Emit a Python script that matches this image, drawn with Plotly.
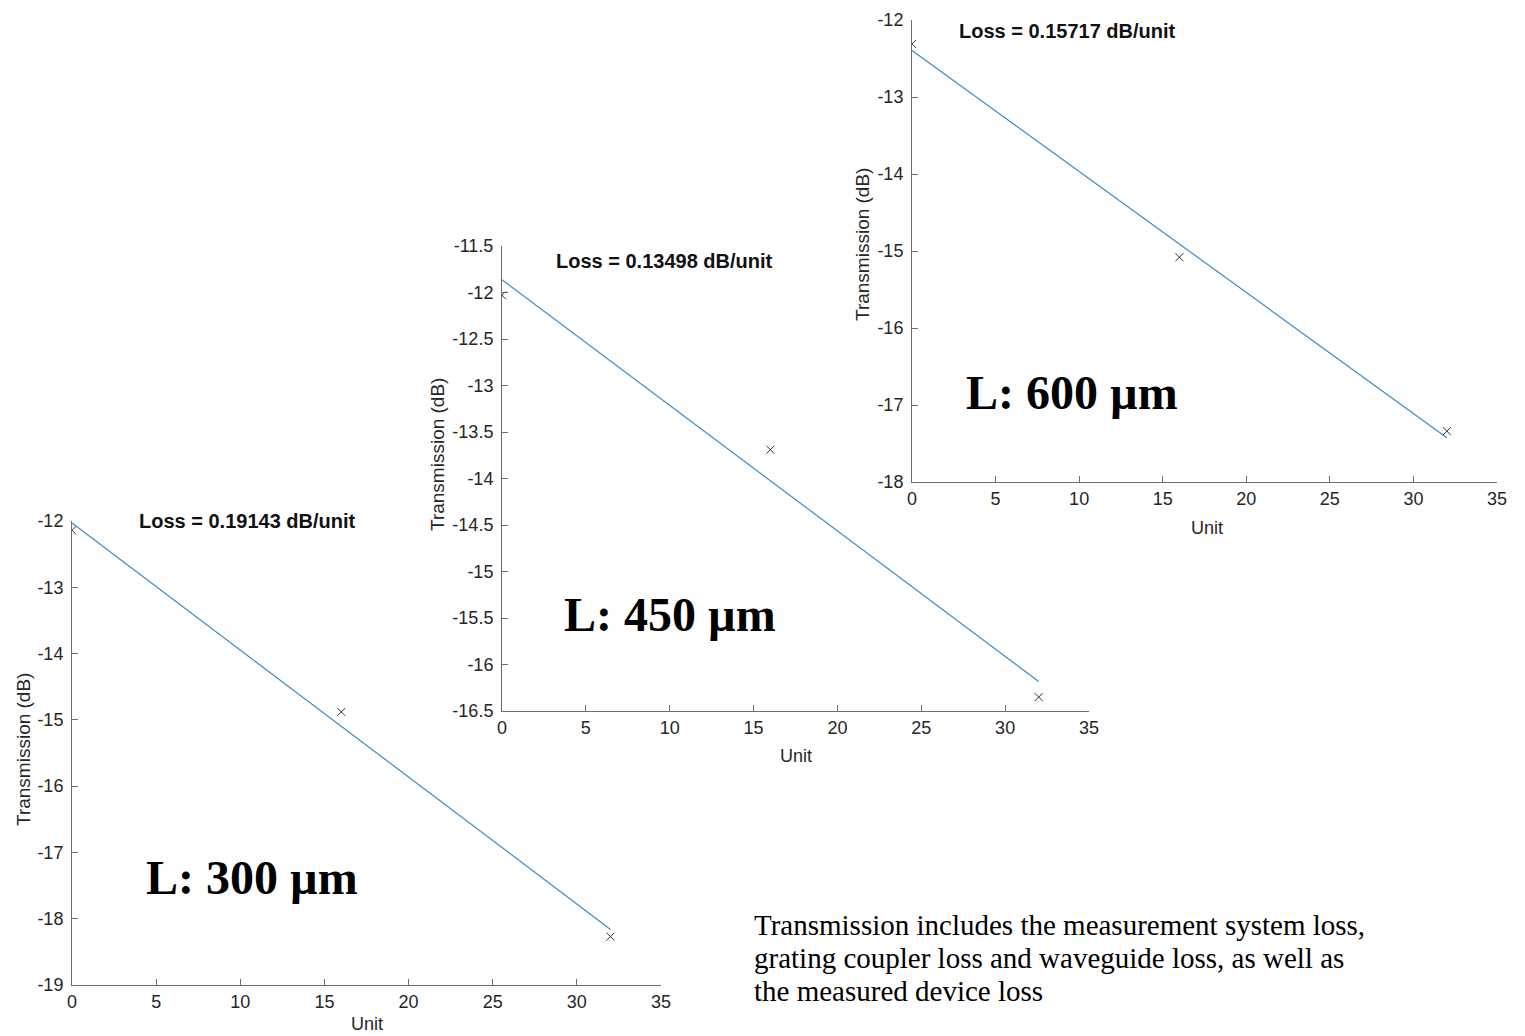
import numpy as np
import plotly.graph_objects as go

# ---------------- data ----------------
units = [0, 16, 32]
trans_300 = [-12.14, -14.88, -18.27]
trans_450 = [-12.03, -13.69, -16.35]
trans_600 = [-12.31, -15.08, -17.34]

loss_labels = ["Loss = 0.19143 dB/unit", "Loss = 0.13498 dB/unit", "Loss = 0.15717 dB/unit"]
length_labels = ["L: 300 µm", "L: 450 µm", "L: 600 µm"]

x_ticks = [0, 5, 10, 15, 20, 25, 30, 35]
y_ticks_300 = [-19, -18, -17, -16, -15, -14, -13, -12]
y_ticks_450 = [-16.5, -16, -15.5, -15, -14.5, -14, -13.5, -13, -12.5, -12, -11.5]
y_ticks_600 = [-18, -17, -16, -15, -14, -13, -12]

note_lines = ["Transmission includes the measurement system loss,",
              "grating coupler loss and waveguide loss, as well as",
              "the measured device loss"]

# ---------------- layout geometry (pixels in the 1525x1036 page) ----------------
OFF = 8                      # page body margin
W, H = 1525 - OFF, 1036 - OFF
def px(x):
    return (x - OFF) / W
def py(y):
    return 1 - (y - OFF) / H

panels = [
    dict(data=trans_300, yt=y_ticks_300, xd=(72, 661), yd=(521, 985),
         loss_pos=(10.4, -12.0), len_pos=(10.7, -17.38),
         ytitle=(23, 750), xtitle=(367, 1024)),
    dict(data=trans_450, yt=y_ticks_450, xd=(502, 1089), yd=(246, 711),
         loss_pos=(9.7, -11.66), len_pos=(10.0, -15.46),
         ytitle=(437, 455), xtitle=(796, 756)),
    dict(data=trans_600, yt=y_ticks_600, xd=(912, 1497), yd=(20, 482),
         loss_pos=(9.3, -12.14), len_pos=(9.6, -16.84),
         ytitle=(862, 245), xtitle=(1207, 528)),
]

FONT = "Liberation Sans, Arial, sans-serif"
SERIF = "Liberation Serif, Times New Roman, serif"
AXCOL = "#6e6e6e"
TXT = "#262626"

def fmt(v):
    return f"{v:g}"

fig = go.Figure()
annotations = []
layout = {}

for i, p in enumerate(panels, start=1):
    xa = "x" if i == 1 else f"x{i}"
    ya = "y" if i == 1 else f"y{i}"
    slope, intercept = np.polyfit(units, p["data"], 1)
    fit_x = [units[0], units[-1]]
    fit_y = [intercept + slope * u for u in fit_x]
    fig.add_trace(go.Scatter(x=fit_x, y=fit_y, mode="lines",
                             line=dict(color="#3d8ac4", width=1.2),
                             xaxis=xa, yaxis=ya, showlegend=False))
    fig.add_trace(go.Scatter(x=units, y=p["data"], mode="markers",
                             marker=dict(symbol="x-thin-open", size=8, color="#333333",
                                         line=dict(color="#333333", width=1)),
                             xaxis=xa, yaxis=ya, showlegend=False))
    yt = p["yt"]
    layout["xaxis" if i == 1 else f"xaxis{i}"] = dict(
        domain=[px(p["xd"][0]), px(p["xd"][1])], anchor=ya, automargin=False,
        range=[0, 35], tickvals=x_ticks, ticktext=[fmt(v) for v in x_ticks],
        ticks="inside", ticklen=6,
        tickcolor=AXCOL, showline=True, linecolor=AXCOL, linewidth=1,
        showgrid=False, zeroline=False, tickfont=dict(family=FONT, size=18, color=TXT))
    layout["yaxis" if i == 1 else f"yaxis{i}"] = dict(
        domain=[py(p["yd"][1]), py(p["yd"][0])], anchor=xa, automargin=False,
        range=[yt[0], yt[-1]], tickvals=yt, ticktext=[fmt(v) for v in yt],
        ticks="inside", ticklen=6, ticklabelstandoff=4,
        tickcolor=AXCOL, showline=True, linecolor=AXCOL, linewidth=1,
        showgrid=False, zeroline=False, tickfont=dict(family=FONT, size=18, color=TXT))
    annotations.append(dict(x=p["loss_pos"][0], y=p["loss_pos"][1], xref=xa, yref=ya,
                            xanchor="center", yanchor="middle",
                            text=f"<b>{loss_labels[i-1]}</b>", showarrow=False,
                            font=dict(family=FONT, size=20, color="#111111")))
    annotations.append(dict(x=p["len_pos"][0], y=p["len_pos"][1], xref=xa, yref=ya,
                            xanchor="center", yanchor="middle",
                            text=f"<b>{length_labels[i-1]}</b>", showarrow=False,
                            font=dict(family=SERIF, size=48, color="black")))
    annotations.append(dict(x=px(p["ytitle"][0]), y=py(p["ytitle"][1]), xref="paper", yref="paper",
                            xanchor="center", yanchor="middle",
                            text="Transmission (dB)", textangle=-90, showarrow=False,
                            font=dict(family=FONT, size=19, color=TXT)))
    annotations.append(dict(x=px(p["xtitle"][0]), y=py(p["xtitle"][1]), xref="paper", yref="paper",
                            xanchor="center", yanchor="middle",
                            text="Unit", showarrow=False,
                            font=dict(family=FONT, size=18, color=TXT)))

for line, yc in zip(note_lines, [925, 958, 991]):
    annotations.append(dict(x=px(752), y=py(yc), xref="paper", yref="paper",
                            xanchor="left", yanchor="middle", align="left",
                            text=line, showarrow=False,
                            font=dict(family=SERIF, size=29, color="black")))

fig.update_layout(template="none", width=W, height=H, margin=dict(l=0, r=0, t=0, b=0),
                  paper_bgcolor="white", plot_bgcolor="rgba(0,0,0,0)",
                  annotations=annotations, **layout)

fig.write_html("out.html")
